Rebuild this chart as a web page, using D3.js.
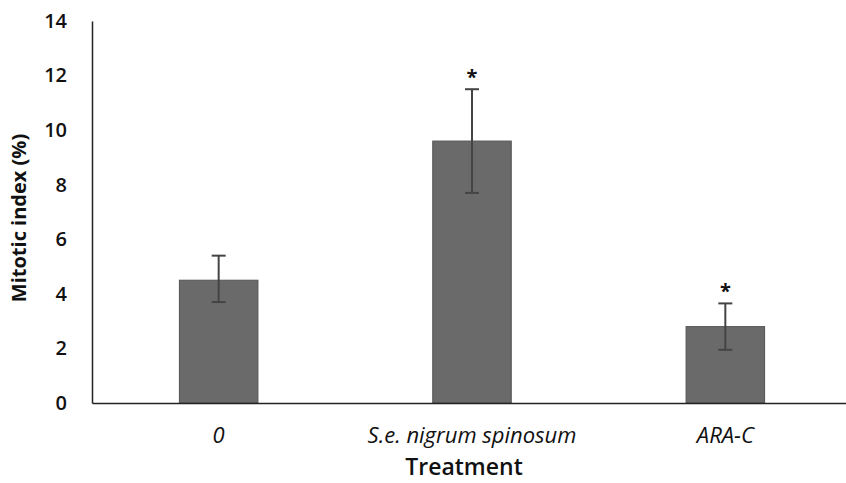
<!DOCTYPE html>
<meta charset="utf-8">
<style>
	body { margin: 0; background: #fff; }
	.chart text { font-family: "Open Sans", sans-serif; fill: #111; }
	.tick text { font-size: 20px; font-weight: 600; }
	.xax .tick text { font-size: 22px; font-style: italic; font-weight: 500; }
	.title { font-size: 20px; font-weight: 700; }
</style>
<script src="https://d3js.org/d3.v7.min.js"></script>
<svg class="chart"></svg>
<script>

	var treatments = ["0", "S.e. nigrum spinosum", "ARA-C"];
	var means = [4.5, 9.6, 2.8];
	var errLow = [3.7, 7.7, 1.95];
	var errHigh = [5.4, 11.5, 3.65];
	var marked = [false, true, true];
	var yTicks = [0, 2, 4, 6, 8, 10, 12, 14];

	var width = 846,
	height = 483;

	var svg = d3.select(".chart")
	.attr("width", width)
	.attr("height", height);

	var x = d3.scaleBand()
	.domain(treatments)
	.range([92, 852])
	.paddingInner(0.69)
	.paddingOuter(0.345);

	var y = d3.scaleLinear()
	.domain([0, 14])
	.range([403, 21]);

	// y axis
	var yAxis = svg.append("g")
		.attr("transform", "translate(92,0)")
		.call(d3.axisLeft(y).tickValues(yTicks).tickSize(0).tickPadding(25));
	yAxis.select(".domain").attr("stroke", "#222").attr("stroke-width", 1.5);

	// bars
	var bar = svg.selectAll(".bar").data(treatments).enter().append("g");

	bar.append("rect")
	.attr("x", function(d) { return x(d); })
	.attr("width", x.bandwidth())
	.attr("y", function(d, i) { return y(means[i]); })
	.attr("height", function(d, i) { return y(0) - y(means[i]); })
	.attr("fill", "#6a6a6a")
	.attr("stroke", "#555")
	.attr("stroke-width", 1);

	// error bars
	var cx = function(d) { return x(d) + x.bandwidth() / 2; };
	bar.append("line")
	.attr("x1", cx).attr("x2", cx)
	.attr("y1", function(d, i) { return y(errLow[i]); })
	.attr("y2", function(d, i) { return y(errHigh[i]); })
	.attr("stroke", "#444").attr("stroke-width", 2);

	[errLow, errHigh].forEach(function(arr) {
		bar.append("line")
		.attr("x1", function(d) { return cx(d) - 7; })
		.attr("x2", function(d) { return cx(d) + 7; })
		.attr("y1", function(d, i) { return y(arr[i]); })
		.attr("y2", function(d, i) { return y(arr[i]); })
		.attr("stroke", "#444").attr("stroke-width", 2);
	});

	bar.filter(function(d, i) { return marked[i]; })
	.append("text")
	.attr("x", cx)
	.attr("y", function(d) { var i = treatments.indexOf(d); return y(errHigh[i]) - 5; })
	.attr("text-anchor", "middle")
	.style("font-size", "20px")
	.style("font-weight", 700)
	.text("*");

	// x axis
	var xAxis = svg.append("g")
		.attr("class", "xax")
		.attr("transform", "translate(0,403)")
		.call(d3.axisBottom(x).tickSize(0).tickPadding(24));
	xAxis.select(".domain").attr("stroke", "#222").attr("stroke-width", 1.5);

	svg.append("text")
	.attr("class", "title")
	.attr("x", 464)
	.attr("y", 475)
	.attr("text-anchor", "middle")
	.style("font-size", "23px")
	.style("font-weight", 600)
	.text("Treatment");

	svg.append("text")
	.attr("class", "title")
	.attr("transform", "translate(26,218) rotate(-90)")
	.attr("text-anchor", "middle")
	.text("Mitotic index (%)");

</script>
